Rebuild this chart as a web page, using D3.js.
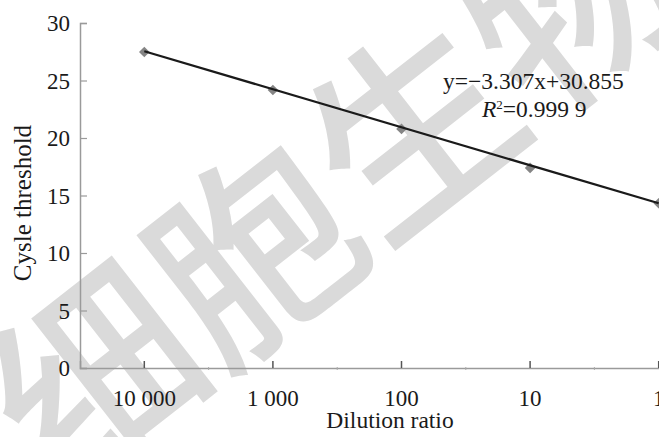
<!DOCTYPE html>
<html>
<head>
<meta charset="utf-8">
<script src="https://cdn.jsdelivr.net/npm/d3@7"></script>
</head>
<body style="margin:0;background:#fff">
<div id="chart"></div>
<script>
// dados
const diluicoes = ['10 000', '1 000', '100', '10', '1'];
const ctValores = [27.48, 24.17, 20.79, 17.4, 14.33];
const yTicks = [0, 5, 10, 15, 20, 25, 30];
// coeficientes da reta de tendência (do próprio gráfico)
const slope = -3.307;
const intercept = 30.855;
const eqLinhas = ['y=\u22123.307x+30.855', '=0.999 9'];

const W = 659, H = 437;
const serif = '"Liberation Serif"';

const svg = d3.select('#chart').append('svg')
  .attr('width', W)
  .attr('height', H)
  .style('display', 'block');

// aplica fonte serifada inline
function txt(sel, size) {
  return sel.style('font-family', serif)
    .style('font-size', size + 'px')
    .style('fill', '#1a1a1a');
}

// marca d'água ao fundo
svg.append('text')
  .attr('x', 326)
  .attr('y', 180)
  .attr('transform', 'rotate(-38,326,180)')
  .attr('text-anchor', 'middle')
  .attr('dominant-baseline', 'central')
  .style('font-family', '"Noto Sans CJK SC", sans-serif')
  .style('font-weight', 500)
  .style('font-size', '202px')
  .style('fill', '#dadada')
  .text('细胞生物');

// escalas
const x = d3.scaleBand()
  .domain(diluicoes)
  .range([80, 723])
  .padding(0);
const cx = d => x(d) + x.bandwidth() / 2;

const y = d3.scaleLinear()
  .domain([0, 30])
  .range([368, 23]);

// eixo Y
const yAxisG = svg.append('g')
  .attr('transform', 'translate(80,0)')
  .call(d3.axisRight(y).tickValues(yTicks).tickSize(7).tickFormat(''));
yAxisG.select('.domain').attr('stroke', '#9a9a9a').attr('stroke-width', 1.5);
yAxisG.selectAll('.tick line').attr('stroke', '#9a9a9a').attr('stroke-width', 1.2);

svg.append('g').selectAll('text.ytick')
  .data(yTicks)
  .enter()
  .append('text')
  .attr('class', 'ytick')
  .attr('x', 70)
  .attr('y', d => y(d) + 8)
  .attr('text-anchor', 'end')
  .call(txt, 23)
  .text(d => d);

// eixo X (linha base + marcas nos centros)
const xAxisG = svg.append('g')
  .attr('transform', 'translate(0,368)')
  .call(d3.axisTop(x).tickSize(7).tickFormat(''));
xAxisG.select('.domain').attr('stroke', '#9a9a9a').attr('stroke-width', 1.5);
xAxisG.selectAll('.tick line').attr('stroke', '#555').attr('stroke-width', 1.5);

// pequenas marcas nos limites das categorias
svg.append('g').selectAll('line.minor')
  .data(diluicoes.slice(1))
  .enter()
  .append('line')
  .attr('class', 'minor')
  .attr('x1', d => x(d))
  .attr('x2', d => x(d))
  .attr('y1', 367)
  .attr('y2', 370)
  .attr('stroke', '#aaa')
  .attr('stroke-width', 1);

svg.append('g').selectAll('text.xtick')
  .data(diluicoes)
  .enter()
  .append('text')
  .attr('class', 'xtick')
  .attr('x', d => cx(d))
  .attr('y', 406)
  .attr('text-anchor', 'middle')
  .call(txt, 23)
  .text(d => d);

// títulos dos eixos
svg.append('text')
  .attr('x', 390)
  .attr('y', 428)
  .attr('text-anchor', 'middle')
  .call(txt, 23.5)
  .text('Dilution ratio');

svg.append('text')
  .attr('transform', 'translate(31,203) rotate(-90)')
  .attr('text-anchor', 'middle')
  .call(txt, 25)
  .text('Cysle threshold');

// pontos (losangos)
svg.append('g').selectAll('path.pt')
  .data(diluicoes)
  .enter()
  .append('path')
  .attr('class', 'pt')
  .attr('d', d3.symbol(d3.symbolSquare, 56))
  .attr('transform', (d, i) => `translate(${cx(d)},${y(ctValores[i])}) rotate(45)`)
  .attr('fill', '#858585');

// reta de tendência
const trend = diluicoes.map((d, i) => [cx(d), y(slope * (i + 1) + intercept)]);
svg.append('path')
  .datum([trend[0], trend[trend.length - 1]])
  .attr('d', d3.line())
  .attr('fill', 'none')
  .attr('stroke', '#1a1a1a')
  .attr('stroke-width', 2.2);

// equação
svg.append('text')
  .attr('x', 443)
  .attr('y', 89)
  .call(txt, 23.5)
  .text(eqLinhas[0]);

const r2 = svg.append('text')
  .attr('x', 482)
  .attr('y', 117)
  .call(txt, 23.5);
r2.append('tspan').style('font-style', 'italic').text('R');
r2.append('tspan').attr('dy', -8).style('font-size', '13px').text('2');
r2.append('tspan').attr('dy', 8).text(eqLinhas[1]);
</script>
</body>
</html>
